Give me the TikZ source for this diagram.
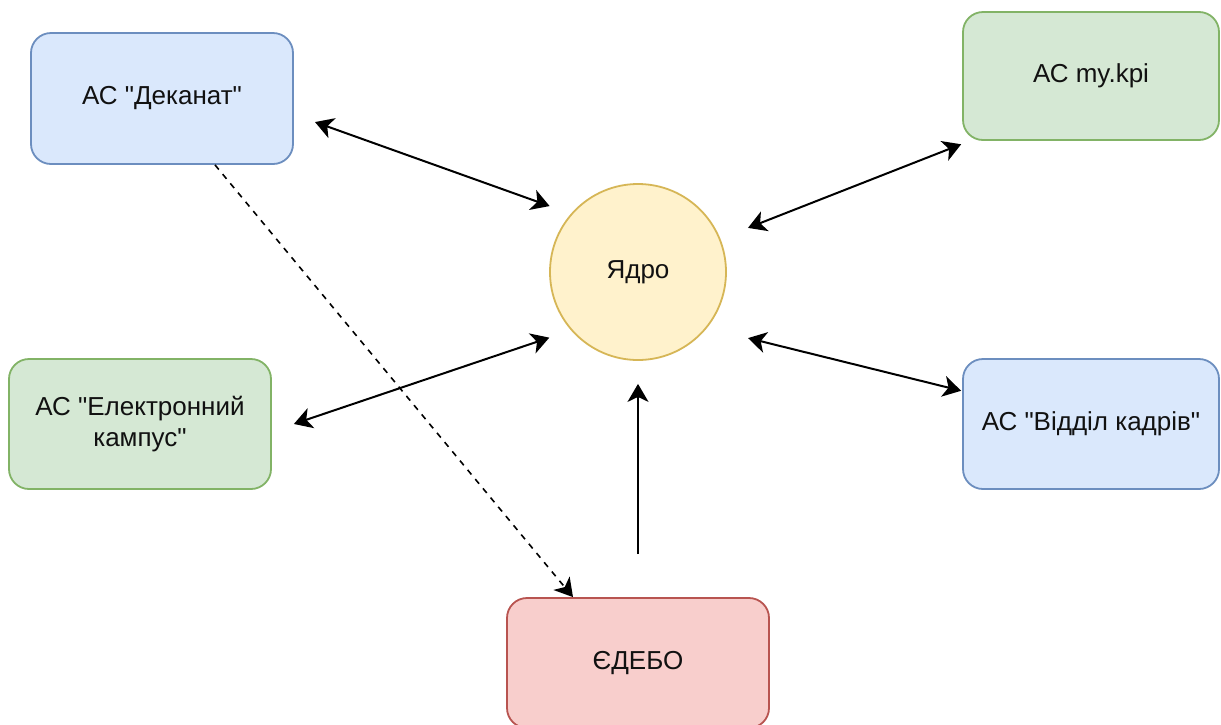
\documentclass[tikz,border=0pt]{standalone}
\usepackage{fontspec}
\setmainfont{Liberation Sans}
\newfontfamily\plainsans{Liberation Sans}
\usetikzlibrary{arrows.meta,calc}
\definecolor{bluefill}{HTML}{DAE8FC}
\definecolor{bluedraw}{HTML}{6C8EBF}
\definecolor{greenfill}{HTML}{D5E8D4}
\definecolor{greendraw}{HTML}{82B366}
\definecolor{yellowfill}{HTML}{FFF2CC}
\definecolor{yellowdraw}{HTML}{D6B656}
\definecolor{redfill}{HTML}{F8CECC}
\definecolor{reddraw}{HTML}{B85450}
\definecolor{txt}{HTML}{111111}
\tikzset{
  sysbox/.style={rectangle, rounded corners=10pt, line width=0.9pt,
    minimum width=131pt, minimum height=65pt, align=center, text=txt,
    font=\plainsans\fontsize{13}{15.6}\selectfont},
  bluebox/.style={sysbox, fill=bluefill, draw=bluedraw},
  greenbox/.style={sysbox, fill=greenfill, draw=greendraw},
  redbox/.style={sysbox, fill=redfill, draw=reddraw},
  corenode/.style={circle, minimum size=88pt, inner sep=0pt, line width=0.9pt,
    fill=yellowfill, draw=yellowdraw, text=txt, font=\plainsans\fontsize{13}{15.6}\selectfont},
  link/.style={line width=1pt, black},
  bilink/.style={link, {Stealth[length=9pt, width=10.5pt, inset=2.5pt]}-{Stealth[length=9pt, width=10.5pt, inset=2.5pt]}},
  onelink/.style={link, -{Stealth[length=9pt, width=10.5pt, inset=2.5pt]}},
  dashlink/.style={line width=0.8pt, black, dash pattern=on 3pt off 3pt,
    -{Stealth[length=9pt, width=10.5pt, inset=2.5pt]}}
}
\begin{document}
\begin{tikzpicture}[x=0.5pt, y=-0.5pt]
\useasboundingbox (0,0) rectangle (1221,724);
\fill[white] (0,0) rectangle (1221,724);

\node[bluebox, minimum width=131pt, minimum height=65.5pt] (dek) at (162,98.5) {АС "Деканат"};
\node[greenbox, minimum width=128pt, minimum height=64pt] (kpi) at (1091,76) {АС my.kpi};
\node[greenbox, minimum width=131pt, minimum height=65pt] (kamp) at (140,424) {АС "Електронний\\кампус"};
\node[bluebox, minimum width=128pt, minimum height=65pt] (kadr) at (1091,424) {АС "Відділ кадрів"};
\node[redbox, minimum width=131pt, minimum height=65pt] (edebo) at (638,663) {ЄДЕБО};
\node[corenode] (core) at (638,272) {Ядро};

% connectors
\draw[bilink, shorten <=11.2pt, shorten >=11.3pt] ($(dek.east)+(0,16)$) -- (core.139);
\draw[bilink, shorten <=0.5pt, shorten >=14.8pt] ($(kpi.south west)+(0,3)$) -- (core.22);
\draw[bilink, shorten <=11.6pt, shorten >=11.4pt] ($(kamp.east)+(0,7.4)$) -- (core.221);
\draw[bilink, shorten <=0.5pt, shorten >=21.1pt] ($(kadr.west)+(0,-33)$) -- (core.-39);
\draw[onelink, shorten <=21.5pt, shorten >=11.5pt] (edebo.north) -- (core.south);
\draw[dashlink] ($(dek.south)+(53,0)$) -- ($(edebo.north)+(-65,0)$);
\end{tikzpicture}
\end{document}
